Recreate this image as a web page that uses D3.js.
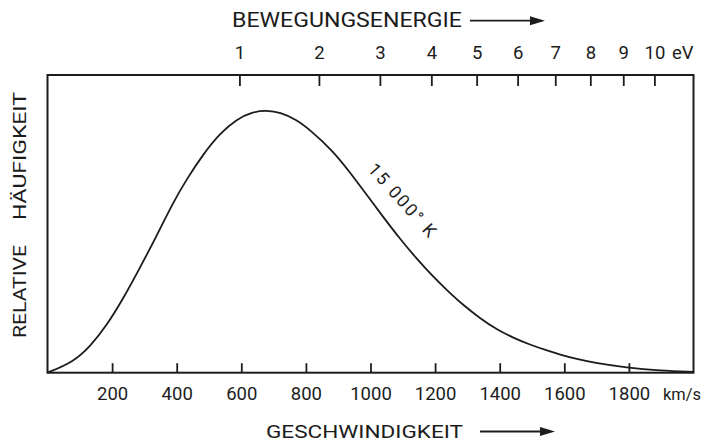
<!DOCTYPE html>
<html>
<head>
<meta charset="utf-8">
<script src="https://cdn.jsdelivr.net/npm/d3@7"></script>
<style>
  body { margin: 0; background: #fff; }
  svg text { font-family: Roboto, "DejaVu Sans", sans-serif; fill: #1c1c1c; }
</style>
</head>
<body>
<script>
// speed in km/s and relative frequency
var speed = [0, 80, 132, 183, 235, 286, 338, 389, 431, 482, 534, 586, 637, 678, 720, 772, 813,
  885, 937, 988, 1040, 1091, 1143, 1194, 1236, 1287, 1339, 1391, 1442, 1494, 1545, 1590, 1638,
  1690, 1793, 1897, 2000];
var freq = [0, 0.036, 0.088, 0.158, 0.250, 0.352, 0.460, 0.572, 0.650, 0.734, 0.804, 0.852, 0.877,
  0.881, 0.875, 0.849, 0.815, 0.744, 0.672, 0.598, 0.522, 0.450, 0.383, 0.322, 0.278, 0.227,
  0.183, 0.145, 0.117, 0.094, 0.075, 0.060, 0.046, 0.034, 0.017, 0.007, 0.003];

var speedTicks = [200, 400, 600, 800, 1000, 1200, 1400, 1600, 1800];
var energyTicks = [1, 2, 3, 4, 5, 6, 7, 8, 9, 10];
var speedMax = 2000;   // km/s at right edge
var energyMax = 11.33; // eV at right edge (electron, E ~ v^2)

var width = 705, height = 441;
var box = {left: 47.5, right: 693.5, top: 75, bottom: 372.7};
var ink = "#1c1c1c";

var svg = d3.select("body")
  .append("svg")
    .attr("width", width)
    .attr("height", height);

var x = d3.scaleLinear().domain([0, speedMax]).range([box.left, box.right]);
var xE = d3.scaleSqrt().domain([0, energyMax]).range([box.left, box.right]);
var y = d3.scaleLinear().domain([0, 1]).range([box.bottom, box.top]);

// bottom axis: ticks pointing inward
var gx = svg.append("g")
  .attr("transform", "translate(0," + box.bottom + ")")
  .call(d3.axisBottom(x).tickValues(speedTicks).tickFormat(d3.format("d"))
    .tickSize(-9.5).tickPadding(14).tickSizeOuter(0));

// top axis (energy)
var gt = svg.append("g")
  .attr("transform", "translate(0," + box.top + ")")
  .call(d3.axisTop(xE).tickValues(energyTicks).tickFormat(d3.format("d"))
    .tickSize(-11).tickPadding(15.7).tickSizeOuter(0));

[gx, gt].forEach(function(g) {
  g.select(".domain").remove();
  g.selectAll(".tick line").attr("stroke", ink).attr("stroke-width", 1.8);
  g.selectAll(".tick text")
    .attr("fill", ink)
    .style("font-size", "18.5px")
    .style("font-family", "Roboto, sans-serif");
});

// frame
svg.append("rect")
  .attr("x", box.left)
  .attr("y", box.top)
  .attr("width", box.right - box.left)
  .attr("height", box.bottom - box.top)
  .attr("fill", "none")
  .attr("stroke", ink)
  .attr("stroke-width", 2);

// distribution curve
var line = d3.line()
  .x(function(d) { return x(d[0]); })
  .y(function(d) { return y(d[1]); })
  .curve(d3.curveBasis);

svg.append("path")
  .datum(d3.zip(speed, freq))
  .attr("d", line)
  .attr("fill", "none")
  .attr("stroke", ink)
  .attr("stroke-width", 1.8);

// unit labels
svg.append("text")
  .attr("x", 663).attr("y", 399.7)
  .attr("textLength", 38)
  .attr("lengthAdjust", "spacingAndGlyphs")
  .style("font-size", "17px")
  .text("km/s");

svg.append("text")
  .attr("x", 672).attr("y", 59.3)
  .style("font-size", "18.5px")
  .text("eV");

// titles with arrows
function arrow(x1, x2, yy) {
  svg.append("line")
    .attr("x1", x1).attr("x2", x2 - 12)
    .attr("y1", yy).attr("y2", yy)
    .attr("stroke", ink).attr("stroke-width", 1.8);
  svg.append("path")
    .attr("d", "M" + (x2 - 15) + "," + (yy - 4.5) + "L" + x2 + "," + yy + "L" + (x2 - 15) + "," + (yy + 4.5) + "Z")
    .attr("fill", ink);
}

svg.append("text")
  .attr("x", 232).attr("y", 27.3)
  .attr("textLength", 230)
  .attr("lengthAdjust", "spacingAndGlyphs")
  .style("font-size", "19.5px")
  .text("BEWEGUNGSENERGIE");
arrow(470, 545, 20.7);

svg.append("text")
  .attr("x", 266).attr("y", 437.5)
  .attr("textLength", 197)
  .attr("lengthAdjust", "spacingAndGlyphs")
  .style("font-size", "19px")
  .text("GESCHWINDIGKEIT");
arrow(480, 555, 431.5);

// y label, rotated
svg.append("text")
  .attr("transform", "translate(26,338) rotate(-90)")
  .attr("textLength", 93)
  .attr("lengthAdjust", "spacingAndGlyphs")
  .style("font-size", "18px")
  .text("RELATIVE");

svg.append("text")
  .attr("transform", "translate(26,220) rotate(-90)")
  .attr("textLength", 128)
  .attr("lengthAdjust", "spacingAndGlyphs")
  .style("font-size", "18px")
  .text("HÄUFIGKEIT");

// curve label
svg.append("text")
  .attr("transform", "translate(367,170) rotate(48)")
  .attr("textLength", 92)
  .attr("lengthAdjust", "spacing")
  .style("font-size", "17.5px")
  .text("15 000° K");
</script>
</body>
</html>
